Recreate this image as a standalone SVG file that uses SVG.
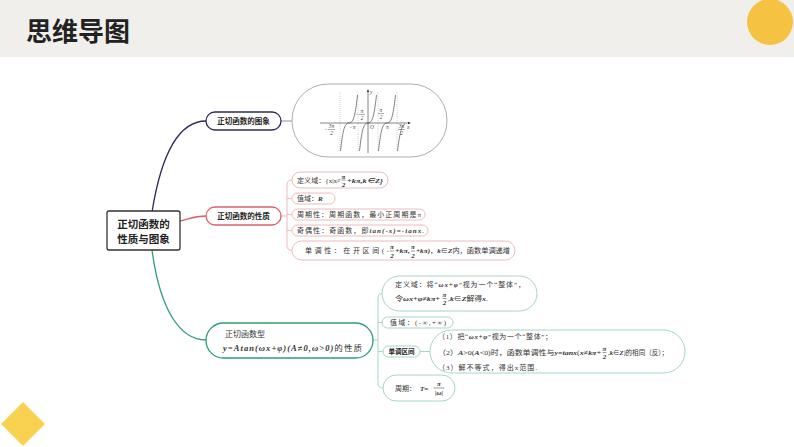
<svg xmlns="http://www.w3.org/2000/svg" width="794" height="447" viewBox="0 0 794 447">
<style>
.hd{font-family:"Noto Sans CJK SC","Noto Sans",sans-serif;font-weight:700;fill:#222;}
.ch{font-family:"Liberation Serif","Noto Sans CJK SC",serif;font-size:7px;fill:#333;}
.m{font-style:italic;font-weight:bold;}
.gr{font-family:"Liberation Serif",serif;font-size:5.5px;font-style:italic;fill:#444;}
.fl{stroke:#333;stroke-width:0.5;}
.rc{fill:#fff;stroke:#ecbcbc;stroke-width:1;}
.gc{fill:#fff;stroke:#a6d6c0;stroke-width:1;}
.conn{fill:none;stroke-width:1.3;}
</style>
<rect x="0" y="0" width="794" height="57" fill="#f0efeb"/>
<text x="26" y="41" class="hd" font-size="26" fill="#333">思维导图</text>
<circle cx="770" cy="22" r="23" fill="#f5c242"/>
<polygon points="1,424 23,402 45,424 23,446" fill="#f9d252"/>

<g id="connectors">
<path class="conn" stroke="#2c2c5a" d="M152,212 C162,150 180,121 206,121"/>
<path class="conn" stroke="#d9626a" d="M180,221 C192,218 195,216 206,216"/>
<path class="conn" stroke="#2f9e6f" d="M152,250 C160,310 180,340 206,340"/>
<path class="conn" stroke="#aab" d="M281,121H292"/>
<path fill="none" stroke="#ecbcbc" stroke-width="1" d="M281,216H287 M292,180 Q287,180 287,185 V245.5 Q287,250.5 292,250.5 M287,198.5H292 M287,214.5H292 M287,230.5H292"/>
<path fill="none" stroke="#a6d6c0" stroke-width="1" d="M373,340H378 M382,293.5 Q378,293.5 378,298 V383 Q378,388 383,388 M378,322.5H382 M378,351.5H383 M420,351.5H430"/>
</g>

<g id="center">
<rect x="107" y="211" width="73" height="39" rx="2" fill="#fff" stroke="#333" stroke-width="1.3"/>
<text class="hd" font-size="10.5" x="143.5" y="228" text-anchor="middle">正切函数的</text>
<text class="hd" font-size="10.5" x="143.5" y="243" text-anchor="middle">性质与图象</text>
</g>

<g id="n-graph">
<rect x="206" y="112" width="75" height="18" rx="9" fill="#fff" stroke="#2c2c5a" stroke-width="1.3"/>
<text class="hd" font-size="7.5" x="243.5" y="124" text-anchor="middle">正切函数的图象</text>
</g>

<g id="n-graph-img">
<rect x="292" y="84" width="155" height="73" rx="36" fill="#fff" stroke="#999" stroke-width="0.8"/>
<g stroke="#aaa" stroke-width="0.5" stroke-dasharray="1,1">
<path d="M340,92V152 M358,92V152 M378,92V152 M397,92V152"/>
</g>
<path d="M320,123H409 M368,153V91" stroke="#333" stroke-width="0.6" fill="none"/>
<path d="M411,123 l-3,-1.2 v2.4z M368,89 l-1.2,3 h2.4z" fill="#333"/>
<g fill="none" stroke="#333" stroke-width="0.6">
<path d="M340.5,151 C343,128 345,123 349,123 C353,123 355,118 357.5,95"/>
<path d="M359.5,151 C362,128 364,123 368,123 C372,123 374,118 376.5,95"/>
<path d="M378.5,151 C381,128 383,123 387,123 C391,123 393,118 395.5,95"/>
<path d="M397.5,151 C400,131 402,125 405,124"/>
</g>
<g fill="none" stroke="#333" stroke-width="0.4">
<path d="M328,129.5H335 M398,129.5H405 M359,114.5H365 M378,113.5H384"/>
</g>
<text class="gr" x="324" y="131">−</text>
<text class="gr" x="331.5" y="128" text-anchor="middle">3π</text>
<text class="gr" x="331.5" y="135" text-anchor="middle">2</text>
<text class="gr" x="349" y="129">−π</text>
<text class="gr" x="370" y="129">O</text>
<text class="gr" x="386" y="129">π</text>
<text class="gr" x="401.5" y="128" text-anchor="middle">3π</text>
<text class="gr" x="401.5" y="135" text-anchor="middle">2</text>
<text class="gr" x="407" y="129">x</text>
<text class="gr" x="370" y="94">y</text>
<text class="gr" x="355" y="116">−</text>
<text class="gr" x="362" y="113" text-anchor="middle">π</text>
<text class="gr" x="362" y="120" text-anchor="middle">2</text>
<text class="gr" x="381" y="112" text-anchor="middle">π</text>
<text class="gr" x="381" y="119" text-anchor="middle">2</text>
</g>

<g id="n-props">
<rect x="206" y="207" width="75" height="18" rx="9" fill="#fff" stroke="#d9626a" stroke-width="1.3"/>
<text class="hd" font-size="7.5" x="243.5" y="219" text-anchor="middle">正切函数的性质</text>
</g>

<g id="p-domain">
<rect class="rc" x="292" y="172" width="96" height="16" rx="8"/>
<text class="ch" x="297" y="182.5" textLength="44" lengthAdjust="spacingAndGlyphs">定义域：{x|x≠</text>
<text class="ch m" x="343.5" y="178.5" text-anchor="middle">π</text>
<path class="fl" d="M341.5,180H345.5"/>
<text class="ch m" x="343.5" y="186.5" text-anchor="middle">2</text>
<text class="ch m" x="347" y="182.5" textLength="36" lengthAdjust="spacingAndGlyphs">+kπ,k∈Z}</text>
</g>
<g id="p-range">
<rect class="rc" x="292" y="193" width="43" height="11" rx="5.5"/>
<text class="ch" x="297" y="201">值域：<tspan class="m">R</tspan></text>
</g>
<g id="p-period">
<rect class="rc" x="292" y="209" width="133" height="11" rx="5.5"/>
<text class="ch" x="297" y="217" textLength="124" lengthAdjust="spacing">周期性：周期函数，最小正周期是π</text>
</g>
<g id="p-parity">
<rect class="rc" x="292" y="225" width="136" height="11" rx="5.5"/>
<text class="ch" x="297" y="233" textLength="127" lengthAdjust="spacing">奇偶性：奇函数，即<tspan class="m">tan(-x)=-tanx</tspan>.</text>
</g>
<g id="p-mono">
<rect class="rc" x="292" y="241" width="223" height="19" rx="9.5"/>
<text class="ch" x="305" y="253" textLength="84" lengthAdjust="spacing">单调性：在开区间(-</text>
<text class="ch m" x="392" y="249" text-anchor="middle">π</text>
<path class="fl" d="M390,251H394"/>
<text class="ch m" x="392" y="257.5" text-anchor="middle">2</text>
<text class="ch m" x="395" y="253" textLength="15" lengthAdjust="spacingAndGlyphs">+kπ,</text>
<text class="ch m" x="413" y="249" text-anchor="middle">π</text>
<path class="fl" d="M411,251H415"/>
<text class="ch m" x="413" y="257.5" text-anchor="middle">2</text>
<text class="ch" x="416" y="253" textLength="94" lengthAdjust="spacingAndGlyphs"><tspan class="m">+kπ)</tspan>，<tspan class="m">k</tspan>∈<tspan class="m">Z</tspan>内，函数单调递增</text>
</g>

<g id="n-type">
<rect x="206" y="323" width="167" height="35" rx="17.5" fill="#fff" stroke="#2f9e6f" stroke-width="1.3"/>
<text class="ch" x="225" y="337" style="font-size:8px">正切函数型</text>
<text class="ch" x="223" y="351" textLength="139" lengthAdjust="spacing" style="font-size:8.5px"><tspan class="m">y=Atan(ωx+φ)(A≠0,ω&gt;0)</tspan>的性质</text>
</g>

<g id="t-domain">
<rect class="gc" x="382" y="276" width="155" height="35" rx="17.5"/>
<text class="ch" x="395" y="287" textLength="130" lengthAdjust="spacing">定义域：将“<tspan class="m">ωx+φ</tspan>”视为一个“整体”，</text>
<text class="ch" x="395" y="301" textLength="45" lengthAdjust="spacingAndGlyphs">令<tspan class="m">ωx+φ≠kπ+</tspan></text>
<text class="ch m" x="444.5" y="297" text-anchor="middle">π</text>
<path class="fl" d="M442.5,298.5H446.5"/>
<text class="ch m" x="444.5" y="305" text-anchor="middle">2</text>
<text class="ch" x="448" y="301" textLength="40" lengthAdjust="spacingAndGlyphs">,<tspan class="m">k</tspan>∈<tspan class="m">Z</tspan>解得<tspan class="m">x</tspan>.</text>
</g>
<g id="t-range">
<rect class="gc" x="382" y="317" width="71" height="11" rx="5.5"/>
<text class="ch" x="390" y="325" textLength="56" lengthAdjust="spacing">值域：(-∞,+∞)</text>
</g>
<g id="t-mono">
<rect class="gc" x="383" y="346" width="37" height="11" rx="5.5"/>
<text class="hd" font-size="6.5" x="401.5" y="354" text-anchor="middle">单调区间</text>
</g>
<g id="t-mono-detail">
<rect class="gc" x="430" y="330" width="255" height="43" rx="21.5"/>
<text class="ch" x="438" y="339" textLength="114" lengthAdjust="spacing">（1）把“<tspan class="m">ωx+φ</tspan>”视为一个“整体”；</text>
<text class="ch" x="438" y="355" textLength="163" lengthAdjust="spacingAndGlyphs">（2）<tspan class="m">A</tspan>&gt;0(<tspan class="m">A</tspan>&lt;0)时，函数单调性与<tspan class="m">y=tanx</tspan>(<tspan class="m">x≠kπ+</tspan></text>
<text class="ch m" x="604.5" y="351" text-anchor="middle">π</text>
<path class="fl" d="M602.5,352.5H606.5"/>
<text class="ch m" x="604.5" y="359" text-anchor="middle">2</text>
<text class="ch" x="608" y="355" textLength="60" lengthAdjust="spacingAndGlyphs">,<tspan class="m">k</tspan>∈<tspan class="m">Z</tspan>)的相同（反）；</text>
<text class="ch" x="438" y="370" textLength="99" lengthAdjust="spacing">（3）解不等式，得出x范围.</text>
</g>
<g id="t-period">
<rect class="gc" x="383" y="375" width="72" height="26" rx="13"/>
<text class="ch" x="395" y="390.5">周期：</text>
<text class="ch m" x="420" y="390.5">T=</text>
<text class="ch m" x="439" y="386" text-anchor="middle">π</text>
<path class="fl" d="M433.5,388H444.5"/>
<text class="ch m" x="439" y="395" text-anchor="middle">|ω|</text>
</g>
</svg>
